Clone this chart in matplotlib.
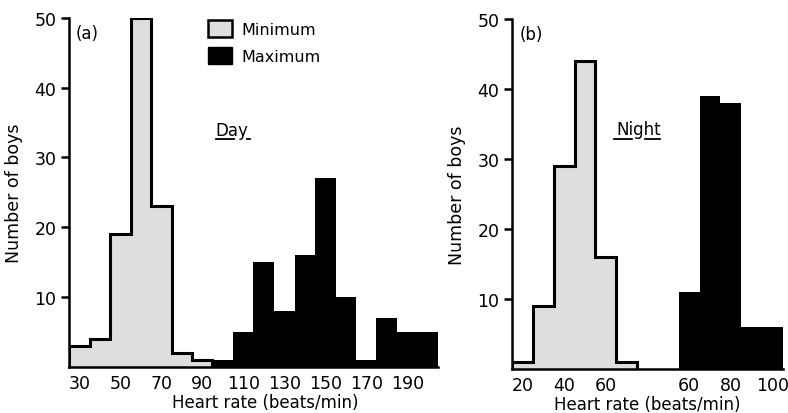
import numpy as np
import matplotlib
matplotlib.use("Agg")
import matplotlib.pyplot as plt
from matplotlib.patches import Patch

plt.rcParams['font.family'] = ['DejaVu Sans']

# day (a): bins of 10 beats/min
day_min_edges = [25, 35, 45, 55, 65, 75, 85, 95]
day_min_counts = [3, 4, 19, 50, 23, 2, 1]
day_max_edges = [95, 105, 115, 125, 135, 145, 155, 165, 175, 185, 195, 205]
day_max_counts = [1, 5, 15, 8, 16, 27, 10, 1, 7, 5, 5]
day_ticks = [30, 50, 70, 90, 110, 130, 150, 170, 190]

# night (b): maximum part drawn on a shifted scale (broken axis)
night_min_edges = [15, 25, 35, 45, 55, 65, 75]
night_min_counts = [1, 9, 29, 44, 16, 1]
night_max_edges = [55, 65, 75, 85, 95, 105]
night_max_counts = [11, 39, 38, 6, 6]
night_shift = 40
night_ticks = [20, 40, 60, 60, 80, 100]

y_ticks = [10, 20, 30, 40, 50]

MIN_FILL = '#dedede'
LW = 2.2

fig = plt.figure(figsize=(7.88, 4.14), dpi=100)
ax1 = fig.add_axes([69/788, 1 - 367.7/414, 369/788, 348.7/414])
ax2 = fig.add_axes([512/788, 1 - 370/414, 271/788, 350/414])


def style(ax):
    for s in ['top', 'right']:
        ax.spines[s].set_visible(False)
    ax.spines['left'].set_linewidth(1.8)
    ax.spines['bottom'].set_linewidth(1.8)
    ax.set_ylim(0, 50)
    ax.set_yticks(y_ticks)
    ax.tick_params(axis='y', length=6, width=1.8, pad=3, labelsize=12.5)
    ax.tick_params(axis='x', length=0, pad=5, labelsize=12.5)
    ax.set_ylabel('Number of boys', fontsize=12.5, labelpad=8)
    ax.set_xlabel('Heart rate (beats/min)', fontsize=12, labelpad=0)


# panel (a)
ax1.stairs(day_max_counts, day_max_edges, fill=True, color='black')
ax1.stairs(day_min_counts, day_min_edges, fill=True, color=MIN_FILL)
ax1.stairs(day_min_counts, day_min_edges, fill=False, baseline=0,
           color='black', linewidth=LW)
ax1.set_xlim(day_min_edges[0], day_max_edges[-1])
ax1.set_xticks(day_ticks)
style(ax1)
ax1.xaxis.set_label_coords(0.531, -0.075)
ax1.text(28.4, 47.9, '(a)', fontsize=12, ha='left', va='center')
ax1.text(104.5, 34, 'Day', fontsize=12, ha='center', va='center')
ax1.plot([0.398, 0.447], [0.652, 0.652], transform=ax1.transAxes,
         color='black', lw=1.3, clip_on=False)
ax1.plot([0.482, 0.490], [0.652, 0.652], transform=ax1.transAxes,
         color='black', lw=1.3, clip_on=False)
handles = [Patch(facecolor=MIN_FILL, edgecolor='black', linewidth=1.8, label='Minimum'),
           Patch(facecolor='black', edgecolor='black', label='Maximum')]
ax1.legend(handles=handles, loc='upper left', bbox_to_anchor=(0.3767, 0.994),
           frameon=False, borderpad=0, borderaxespad=0, handlelength=1.5,
           handleheight=1.25, handletextpad=0.6, labelspacing=0.65, fontsize=11.5)

# panel (b)
shifted = [e + night_shift for e in night_max_edges]
ax2.stairs(night_max_counts, shifted, fill=True, color='black')
ax2.stairs(night_min_counts, night_min_edges, fill=True, color=MIN_FILL)
ax2.stairs(night_min_counts, night_min_edges, fill=False, baseline=0,
           color='black', linewidth=LW)
ax2.set_xlim(night_min_edges[0], shifted[-1])
ax2.set_xticks([20, 40, 60, 60 + night_shift, 80 + night_shift, 100 + night_shift])
ax2.set_xticklabels([str(t) for t in night_ticks])
style(ax2)
ax2.xaxis.set_label_coords(0.5, -0.075)
ax2.text(18.8, 47.9, '(b)', fontsize=12, ha='left', va='center')
ax2.text(75.6, 34.3, 'Night', fontsize=12, ha='center', va='center')
ax2.plot([0.376, 0.443], [0.657, 0.657], transform=ax2.transAxes,
         color='black', lw=1.3, clip_on=False)
ax2.plot([0.491, 0.546], [0.657, 0.657], transform=ax2.transAxes,
         color='black', lw=1.3, clip_on=False)

fig.savefig('out.png', dpi=100)
